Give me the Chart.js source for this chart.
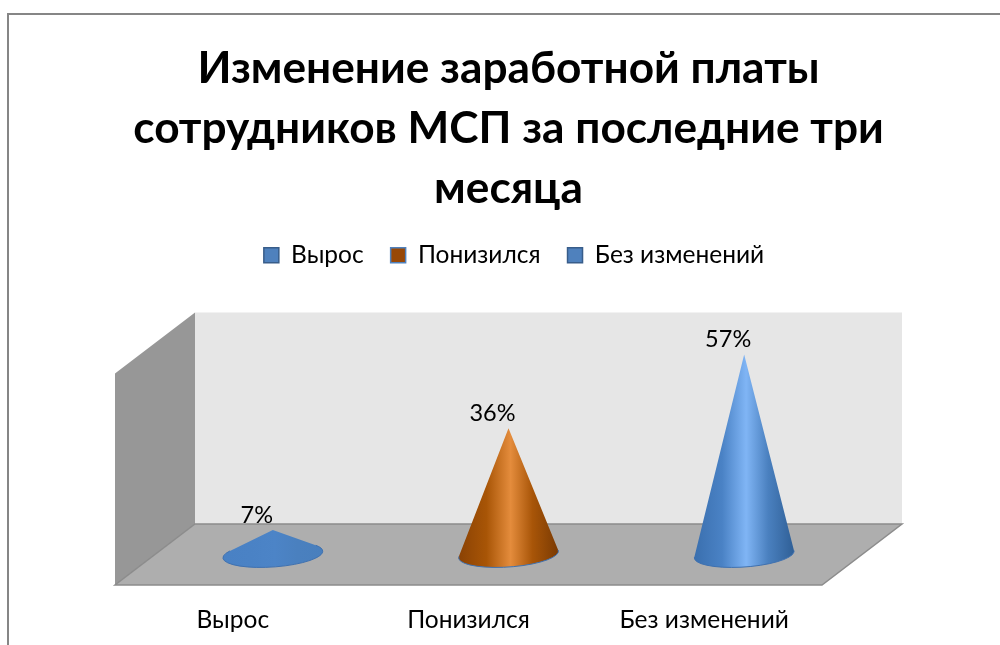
<!DOCTYPE html>
<html><head><meta charset="utf-8">
<style>html,body{margin:0;padding:0;background:#fff}canvas{display:block}</style>
<script src="https://cdn.jsdelivr.net/npm/chart.js@4"></script>
</head><body>
<canvas id="c" width="1000" height="645"></canvas>
<script>
const titleLines = ["Изменение заработной платы", "сотрудников МСП за последние три", "месяца"];
const categories = ["Вырос", "Понизился", "Без изменений"];
const values = [7, 36, 57];
const valueLabels = ["7%", "36%", "57%"];
const palettes = [
  ["#3a6fae", "#4a82c5", "#80b5f5", "#4a80bf", "#2f5f96"],
  ["#8a4204", "#a85506", "#e48c3c", "#a85508", "#7a3a03"],
  ["#3a6fae", "#4a82c5", "#80b5f5", "#4a80bf", "#2f5f96"]
];
const legendFill = ["#4f81bd", "#984807", "#4f81bd"];
const legendEdge = ["#385d8a", "#4f81bd", "#385d8a"];
const FONT = "Lato, 'Open Sans', sans-serif";

function mix(a, b, t) {
  const p = s => [1,3,5].map(i => parseInt(s.substr(i,2),16));
  const A = p(a), B = p(b);
  return "rgb(" + A.map((v,i) => Math.round(v + (B[i]-v)*t)).join(",") + ")";
}

class ConeElement extends Chart.BarElement {
  draw(ctx) {
    const x = this.x, tipY = this.y, baseY = this.base;
    const rx = this.width / 2, ry = rx / 4, rot = -4 * Math.PI / 180;
    const h = baseY - tipY;
    const ty = -h;
    const lx = ty*Math.sin(rot), ly = ty*Math.cos(rot);
    const A = lx/rx, B = ly/ry, R = Math.hypot(A,B), phi = Math.atan2(B,A), d = Math.acos(1/R);
    const thL = phi - d, thR = phi + d;
    const pal = palettes[this.$context.dataIndex];
    const strength = Math.min(1, Math.pow(h / 120, 2));
    const g = ctx.createLinearGradient(x - rx, 0, x + rx, 0);
    g.addColorStop(0, mix(pal[1], pal[0], strength));
    g.addColorStop(0.28, pal[1]);
    g.addColorStop(0.52, mix(pal[1], pal[2], strength));
    g.addColorStop(0.74, pal[3]);
    g.addColorStop(1, mix(pal[3], pal[4], strength));
    ctx.save();
    ctx.beginPath();
    ctx.moveTo(x, tipY);
    const px = rx*Math.cos(thL), py = ry*Math.sin(thL);
    ctx.lineTo(x + px*Math.cos(rot) - py*Math.sin(rot), baseY + px*Math.sin(rot) + py*Math.cos(rot));
    ctx.ellipse(x, baseY, rx, ry, rot, thL, thR, true);
    ctx.closePath();
    ctx.fillStyle = g;
    ctx.fill();
    ctx.beginPath();
    ctx.ellipse(x, baseY, rx, ry, rot, thL, thR, true);
    ctx.strokeStyle = "#3f71b0";
    ctx.lineWidth = 1;
    ctx.stroke();
    ctx.restore();
  }
}
ConeElement.id = "cone";
class ConeController extends Chart.BarController {}
ConeController.id = "cone";
ConeController.defaults = { dataElementType: "cone" };
ConeController.overrides = Chart.BarController.overrides;
Chart.register(ConeElement, ConeController);

const stage = {
  id: "stage",
  afterLayout(chart) {
    const l = chart.legend, up = l.top - 216;
    l.top -= up; l.bottom -= up;
    l.left += 5.5; l.right += 5.5;
    const t = chart.titleBlock;
    t.left -= 40; t.right += 40; t.width += 80;
  },
  beforeDatasetsDraw(chart) {
    const { ctx, chartArea: a, scales: { y } } = chart;
    const dx = 40, dy = 30.5, wallRise = a.bottom - y.getPixelForValue(60);
    const fl = a.left - dx, fr = a.right - dx, bl = a.left + dx, br = a.right + dx;
    const fy = a.bottom + dy, by = a.bottom - dy, topB = by - (wallRise + 1);
    ctx.save();
    ctx.strokeStyle = "#868686"; ctx.lineWidth = 2;
    ctx.beginPath(); ctx.moveTo(1000, 14); ctx.lineTo(8, 14); ctx.lineTo(8, 645); ctx.stroke();
    ctx.fillStyle = "#e6e6e6";
    ctx.fillRect(bl, topB, br - bl, by - topB);
    ctx.fillStyle = "#979797";
    ctx.beginPath(); ctx.moveTo(bl, topB); ctx.lineTo(bl, by); ctx.lineTo(fl, fy); ctx.lineTo(fl, topB + 2*dy); ctx.closePath(); ctx.fill();
    ctx.fillStyle = "#aeaeae";
    ctx.beginPath(); ctx.moveTo(bl, by); ctx.lineTo(br, by); ctx.lineTo(fr, fy); ctx.lineTo(fl, fy); ctx.closePath(); ctx.fill();
    ctx.strokeStyle = "#8c8c8c"; ctx.lineWidth = 1.5; ctx.stroke();
    ctx.restore();
  },
  afterDatasetsDraw(chart) {
    const { ctx } = chart;
    ctx.save();
    ctx.font = "23.5px " + FONT;
    ctx.fillStyle = "#000"; ctx.textAlign = "center"; ctx.textBaseline = "middle";
    chart.getDatasetMeta(0).data.forEach((el, i) => ctx.fillText(valueLabels[i], el.x - 16, el.y - 15));
    ctx.restore();
  }
};

new Chart(document.getElementById("c"), {
  type: "cone",
  data: { labels: categories, datasets: [{ data: values, barThickness: 100, backgroundColor: legendFill, clip: false }] },
  plugins: [stage],
  options: {
    responsive: false, animation: false, events: [],
    layout: { padding: { left: 155, right: 138, top: 39, bottom: 0 } },
    plugins: {
      tooltip: { enabled: false },
      title: {
        display: true, text: titleLines, color: "#000",
        font: { family: FONT, size: 44.2, weight: "bold", lineHeight: 60 / 44.2 },
        padding: { top: 0, bottom: 63.5 }
      },
      legend: {
        display: true, position: "top",
        labels: {
          color: "#000", font: { family: FONT, size: 24.5 }, boxWidth: 15, boxHeight: 15, padding: 27,
          generateLabels: () => categories.map((t, i) => ({
            text: t, fillStyle: legendFill[i], strokeStyle: legendEdge[i], lineWidth: 1.5, hidden: false, index: i, fontColor: "#000"
          }))
        }
      }
    },
    scales: {
      x: {
        grid: { display: false }, border: { display: false },
        afterFit(s) { s.height = 90.5; },
        ticks: { color: "#000", font: { family: FONT, size: 24.5 }, labelOffset: -40, padding: 43, maxRotation: 0 }
      },
      y: { display: false, min: 0, max: 60 }
    }
  }
});
</script>
</body></html>
